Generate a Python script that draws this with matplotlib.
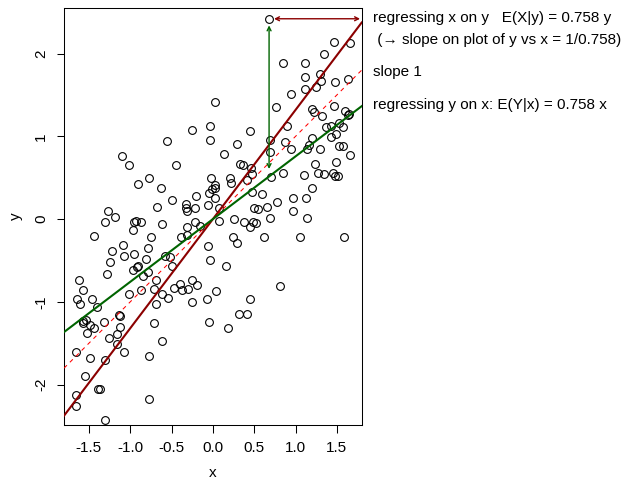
import matplotlib
matplotlib.use("Agg")
import matplotlib.pyplot as plt
import numpy as np

plt.rcParams["font.family"] = ["Liberation Sans", "DejaVu Sans"]
plt.rcParams["axes.unicode_minus"] = False

# ---- data -----------------------------------------------------------
x_pts = [0.68, 1.46, 1.66, 1.34, 0.85, 1.11, 1.11, 1.30, 1.31, 1.48,
         1.64, 1.11, 1.25, 0.94, 1.47, 0.76, 0.02, 1.20, 1.22, 1.32,
         1.60, 1.64, 1.65, 0.90, -0.04, -0.25, 0.45, -0.03, -0.56, 0.29,
         0.87, 0.95, 0.69, 0.69, 0.14, 1.20, 1.16, 1.14, 1.30, 1.37,
         1.43, 1.43, 1.49, 1.57, 1.52, 1.52, 1.57, 1.66, -1.10, -1.02,
         -0.44, 0.33, 0.36, 0.46, 0.41, 0.47, 0.21, 0.22, -0.02, 0.02,
         0.03, -0.01, -0.05, 0.02, -0.20, -0.49, -0.77, -0.90, -0.63, -0.68,
         -0.32, -0.32, -0.31, -0.21, -0.06, 0.07, 0.47, 0.59, 0.85, 0.70,
         0.97, 1.13, 0.78, 0.66, 0.50, 0.55, 1.10, 1.20, 1.24, 1.27,
         1.35, 1.45, 1.49, 1.48, 1.51, 0.97, 1.14, 1.59, 1.05, 0.69,
         0.62, 0.52, 0.48, 0.45, 0.38, 0.25, 0.08, 0.24, 0.29, -0.15,
         -0.21, -0.31, -0.31, -0.39, -0.61, -0.06, -0.03, 0.16, 0.04, -0.07,
         -0.25, -0.19, -0.30, -0.40, -0.37, -0.47, -0.25, -0.54, -0.62, -0.69,
         -0.71, -0.69, 0.45, 0.32, 0.41, -0.05, 0.18, 0.81, -0.71, -0.61,
         -0.77, -0.77, -0.49, -0.52, -0.58, -0.79, -0.75, -0.81, -0.79, -0.85,
         -0.87, -0.95, -0.96, -0.92, -0.91, -0.97, -0.95, -0.93, -0.87, -1.08,
         -1.09, -1.22, -1.24, -1.28, -1.18, -1.30, -1.27, -1.44, -1.01, -1.40,
         -1.46, -1.57, -1.62, -1.64, -1.61, -1.57, -1.57, -1.54, -1.52, -1.49,
         -1.44, -1.32, -1.26, -1.13, -1.12, -1.12, -1.16, -1.16, -1.07, -1.66,
         -1.49, -1.30, -1.55, -1.66, -1.65, -1.39, -1.36, -1.31]
y_pts = [2.42, 2.14, 2.13, 2.00, 1.89, 1.89, 1.72, 1.75, 1.67, 1.66,
         1.69, 1.57, 1.59, 1.51, 1.37, 1.35, 1.42, 1.33, 1.29, 1.25,
         1.31, 1.26, 1.27, 1.13, 1.13, 1.08, 1.07, 0.95, 0.94, 0.91,
         0.93, 0.85, 0.95, 0.81, 0.79, 0.98, 0.90, 0.85, 0.85, 1.11,
         1.13, 0.99, 1.03, 1.11, 1.16, 0.88, 0.88, 0.78, 0.76, 0.65,
         0.65, 0.66, 0.65, 0.62, 0.47, 0.54, 0.50, 0.44, 0.50, 0.41,
         0.38, 0.36, 0.31, 0.26, 0.28, 0.23, 0.50, 0.43, 0.37, 0.15,
         0.18, 0.13, 0.10, 0.14, 0.17, 0.14, 0.33, 0.30, 0.56, 0.51,
         0.26, 0.26, 0.21, 0.15, 0.13, 0.12, 0.53, 0.37, 0.66, 0.56,
         0.54, 0.56, 0.69, 0.52, 0.52, 0.10, 0.01, -0.22, -0.21, 0.01,
         -0.22, -0.05, -0.04, -0.09, -0.03, 0.00, -0.02, -0.21, -0.29, -0.08,
         -0.04, -0.10, -0.19, -0.21, -0.06, -0.33, -0.49, -0.56, -0.87, -0.96,
         -0.74, -0.80, -0.84, -0.78, -0.86, -0.83, -1.00, -0.95, -0.90, -0.73,
         -0.84, -1.02, -0.96, -1.14, -1.15, -1.24, -1.31, -0.81, -1.25, -1.47,
         -1.65, -2.17, -0.56, -0.46, -0.44, -0.35, -0.21, -0.48, -0.64, -0.69,
         -0.85, -0.42, -0.62, -0.58, -0.56, -0.13, -0.04, -0.02, -0.04, -0.44,
         -0.31, -0.39, -0.52, -0.66, 0.02, -0.04, 0.10, -0.20, -0.91, -1.06,
         -0.97, -0.85, -0.73, -0.96, -1.03, -1.23, -1.26, -1.22, -1.37, -1.28,
         -1.32, -1.24, -1.44, -1.16, -1.17, -1.30, -1.39, -1.51, -1.60, -1.61,
         -1.68, -1.70, -1.89, -2.13, -2.26, -2.05, -2.05, -2.42]
slope_yx = 0.758          # E(Y|x) = 0.758 x  and  E(X|y) = 0.758 y
x_ticks = [-1.5, -1.0, -0.5, 0.0, 0.5, 1.0, 1.5]
y_ticks = [-2, -1, 0, 1, 2]
x_lim = (-1.8, 1.8)
y_lim = (-2.49, 2.55)
# ----------------------------------------------------------------------

x_pts = np.array(x_pts)
y_pts = np.array(y_pts)

W, H = 622, 484
fig = plt.figure(figsize=(W / 100, H / 100), dpi=100)
ax = fig.add_axes([64 / W, 1 - 425.3 / H, 297.7 / W, 417.3 / H])

ax.plot(x_pts, y_pts, ls="none", marker="o", ms=5.6, mfc="none",
        mec="black", mew=0.8, zorder=3)

xx = np.array(x_lim)
ax.plot(xx, xx / slope_yx, color="darkred", lw=1.5, zorder=4)
ax.plot(xx, xx, color="red", lw=0.75, dashes=(4, 4), zorder=4)
ax.plot(xx, xx * slope_yx, color="darkgreen", lw=1.5, zorder=4)

# arrows from the top point to the two regression lines
i_top = np.argmax(y_pts)
xt, yt = x_pts[i_top], y_pts[i_top]
ax.annotate("", xy=(xt, slope_yx * xt + 0.09), xytext=(xt, yt - 0.08),
            arrowprops=dict(arrowstyle="<->", color="darkgreen", lw=1,
                            mutation_scale=7, shrinkA=0, shrinkB=0),
            zorder=5)
ax.annotate("", xy=(min(yt * slope_yx, x_lim[1]) - 0.02, yt),
            xytext=(xt + 0.06, yt),
            arrowprops=dict(arrowstyle="<->", color="darkred", lw=1,
                            mutation_scale=7, shrinkA=0, shrinkB=0),
            annotation_clip=False, zorder=5)

ax.set_xlim(*x_lim)
ax.set_ylim(*y_lim)
ax.set_xticks(x_ticks)
ax.set_xticklabels([f"{v:.1f}" for v in x_ticks])
ax.set_yticks(y_ticks)
ax.set_yticklabels([str(v) for v in y_ticks], rotation=90, va="center")
ax.tick_params(direction="out", length=5.4, width=0.75, labelsize=11,
               pad=6)
for s in ax.spines.values():
    s.set_linewidth(0.75)
ax.set_xlabel("x", fontsize=11, labelpad=8)
ax.set_ylabel("y", fontsize=11, labelpad=8)

# labels on the right, outside the plot
tx = 373 / W
fs = 11
fig.text(tx, 1 - 18 / H, "regressing x on y   E(X|y) = 0.758 y",
         fontsize=fs, va="center")
fig.text(tx, 1 - 40 / H, " (\u2192 slope on plot of y vs x = 1/0.758)",
         fontsize=fs, va="center")
fig.text(tx, 1 - 72 / H, "slope 1", fontsize=fs, va="center")
fig.text(tx, 1 - 105 / H, "regressing y on x: E(Y|x) = 0.758 x",
         fontsize=fs, va="center")

fig.savefig("out.png", dpi=100)
